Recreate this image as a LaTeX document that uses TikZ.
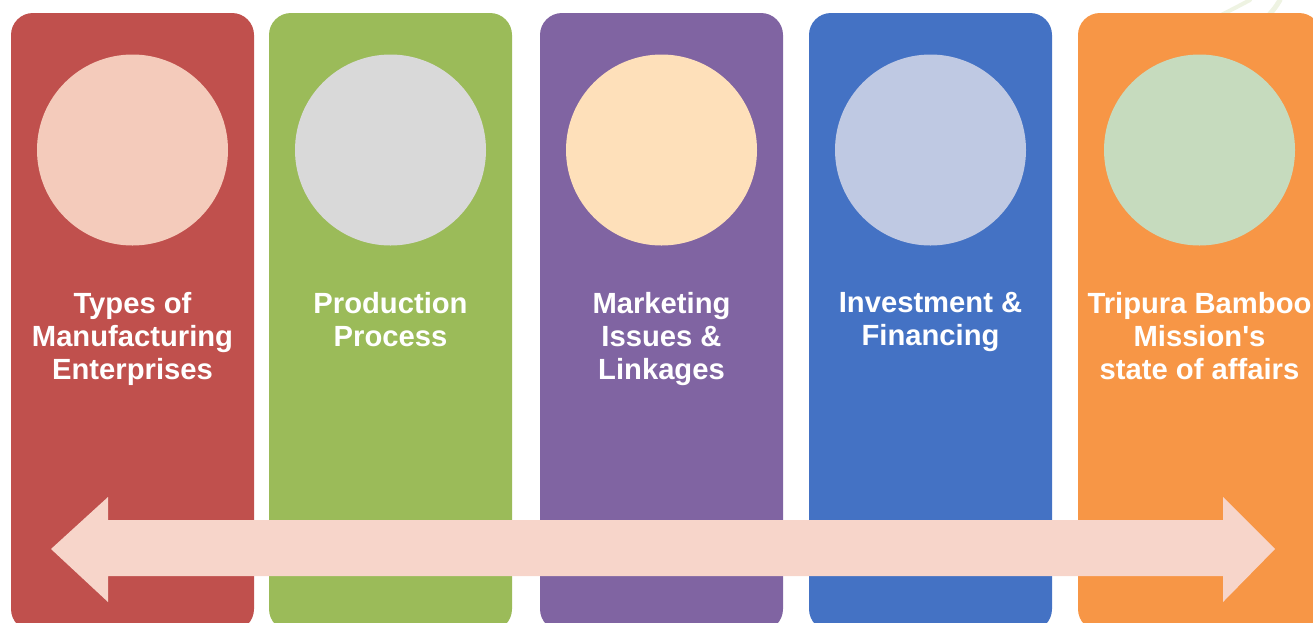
\documentclass[tikz,border=0pt]{standalone}
\usepackage{fontspec}
\setmainfont{Liberation Sans}
\definecolor{cred}{HTML}{C0504D}
\definecolor{cgreen}{HTML}{9BBB59}
\definecolor{cpurple}{HTML}{8064A2}
\definecolor{cblue}{HTML}{4472C4}
\definecolor{corange}{HTML}{F79646}
\definecolor{kred}{HTML}{F4CBBB}
\definecolor{kgreen}{HTML}{D9D9D9}
\definecolor{kpurple}{HTML}{FEE0BA}
\definecolor{kblue}{HTML}{BFC9E3}
\definecolor{korange}{HTML}{C6DBBE}
\definecolor{arrowc}{HTML}{F7D5CA}
\definecolor{leaf}{HTML}{EEF3E2}
\tikzset{
  colbox/.style={rounded corners=22pt, draw=none},
  disc/.style={circle, minimum size=191pt, inner sep=0pt, draw=none},
  label/.style={text=white, font=\fontsize{29.2}{33}\selectfont\bfseries, align=center, anchor=north, inner sep=0pt}
}
\begin{document}
\begin{tikzpicture}[x=1pt,y=-1pt]
\useasboundingbox (0,0) rectangle (1313,622);
\begin{scope}
\clip (0,0) rectangle (1313,622);
% faint background leaf strokes
\draw[leaf, line width=4pt, line cap=round] (1215,18) .. controls (1235,8) .. (1250,0);
\draw[leaf, line width=5pt, line cap=round] (1268,16) .. controls (1275,8) .. (1280,0);
% columns
\fill[cred, colbox] (11,13) rectangle (254,631);
\fill[cgreen, colbox] (269,13) rectangle (512,631);
\fill[cpurple, colbox] (540,13) rectangle (783,631);
\fill[cblue, colbox] (809,13) rectangle (1052,631);
\fill[corange, colbox] (1078,13) rectangle (1321,631);
% discs
\node[disc, fill=kred] (d1) at (132.5,150) {};
\node[disc, fill=kgreen] (d2) at (390.5,150) {};
\node[disc, fill=kpurple] (d3) at (661.5,150) {};
\node[disc, fill=kblue] (d4) at (930.5,150) {};
\node[disc, fill=korange] (d5) at (1199.5,150) {};
% labels
\node[label] (t1) at (132.5,292) {Types of\\Manufacturing\\Enterprises};
\node[label] (t2) at (390.5,292) {Production\\Process};
\node[label] (t3) at (661.5,292) {Marketing\\Issues \&\\Linkages};
\node[label] (t4) at (930.5,292) {Investment \&\\Financing};
\node[label] (t5) at (1199.5,292) {Tripura Bamboo\\Mission\textquotesingle s\\state of affairs};
% double arrow
\fill[arrowc] (51,549) -- (108,497) -- (108,520) -- (1223,520) -- (1223,497)
  -- (1275,549) -- (1223,602) -- (1223,576) -- (108,576) -- (108,602) -- cycle;
\end{scope}
\end{tikzpicture}
\end{document}
